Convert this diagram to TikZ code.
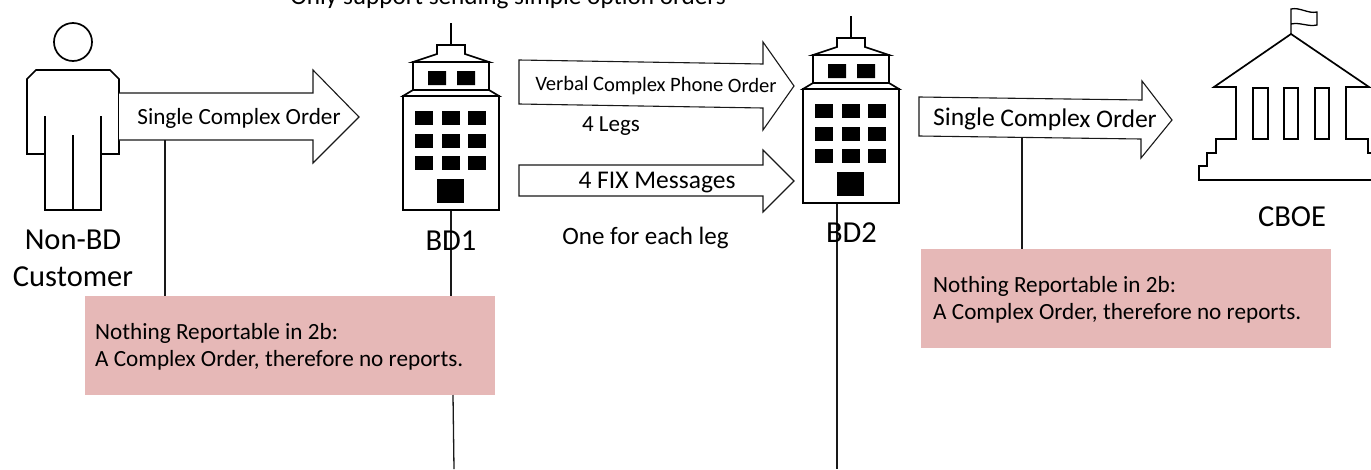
\documentclass[tikz,border=0pt]{standalone}
\usepackage{fontspec}
\setmainfont{Carlito}
\definecolor{pinkfill}{HTML}{E6B8B7}
\tikzset{
  x=1pt,y=-1pt,
  icon/.style={draw=black,line width=1.7pt,line join=miter},
  blockarrow/.style={draw=black!90,line width=1.1pt,fill=white,line join=miter},
  conn/.style={draw=black!90,line width=1.3pt},
  pinkbox/.style={fill=pinkfill,draw=none,inner sep=0pt,minimum width=410pt,minimum height=99pt},
  lbl/.style={inner sep=0pt,align=center,text=black},
  big/.style={lbl,font=\fontsize{30.5}{38}\selectfont},
  mid/.style={lbl,font=\fontsize{25.5}{30}\selectfont},
  boxtext/.style={inner sep=0pt,align=left,anchor=west,font=\fontsize{23.2}{27}\selectfont},
  pics/bdicon/.style={code={
    \draw[icon] (451,23) -- (451,45);
    \draw[icon] (413,62) -- (437,54) -- (437,45) -- (465,45) -- (465,54) -- (489,62) -- cycle;
    \draw[icon] (413,62) rectangle (489,90);
    \draw[icon] (413,90) -- (403,96) -- (499,96) -- (489,90);
    \draw[icon] (403,96) rectangle (499,210);
    \fill[black] (428,71) rectangle (446,85) (457,71) rectangle (475,85);
    \foreach \wy in {111,134,156} \foreach \wx in {415,442,468}
      \fill[black] (\wx,\wy) rectangle ++(18,14);
    \fill[black] (437,179) rectangle (464,203);
  }}
}
\begin{document}
\begin{tikzpicture}
\useasboundingbox (0,0) rectangle (1371,469);
\clip (0,0) rectangle (1371,469);
\fill[white] (0,0) rectangle (1371,469);

% free line ends
\coordinate (bdOneTop) at (451,210);
\coordinate (bdOneLow) at (453,395);
\coordinate (bdOneEnd) at (454,469);
\coordinate (bdTwoTop) at (837,203);
\coordinate (bdTwoEnd) at (837,469);
\coordinate (arrowOneFoot) at (165,140);
\coordinate (arrowFourFoot) at (1022,138);

% pink boxes
\node[pinkbox,anchor=north west] (boxOne) at (85,296) {};
\node[pinkbox,anchor=north west] (boxTwo) at (921,249) {};

% lifelines
\draw[conn] (bdOneTop) -- (bdOneTop |- boxOne.north);
\draw[conn] (bdOneLow) -- (bdOneEnd);
\draw[conn] (bdTwoTop) -- (bdTwoEnd);

% customer
\draw[icon] (73,42) circle (19);
\draw[icon] (36,70) -- (110,70) -- (119,79) -- (119,154) -- (101,154) -- (101,210) -- (45,210) -- (45,154) -- (27,154) -- (27,79) -- cycle;
\draw[icon] (45,116) -- (45,154) (101,116) -- (101,154) (73,135) -- (73,210);

% block arrows
\draw[blockarrow] (119,93) -- (313,93) -- (313,70) -- (359,117) -- (313,163) -- (313,140) -- (119,140);
\draw[blockarrow] (519,60) -- (763,64) -- (763,42) -- (794,86) -- (763,130) -- (763,108) -- (519,104) -- cycle;
\draw[blockarrow] (519,165) -- (763,165) -- (763,150) -- (794,181) -- (763,212) -- (763,196) -- (519,196) -- cycle;
\draw[blockarrow] (919,97) -- (1142,100) -- (1142,81) -- (1172,120) -- (1141,158) -- (1141,139) -- (919,136) -- cycle;

% connectors to the boxes
\draw[conn] (arrowOneFoot) -- (arrowOneFoot |- boxOne.north);
\draw[conn] (arrowFourFoot) -- (arrowFourFoot |- boxTwo.north);

% buildings
\pic at (0,0) {bdicon};
\pic at (400,-7) {bdicon};

% exchange
\draw[icon] (1199,180) -- (1199,166) -- (1207,166) -- (1207,153) -- (1216,153) -- (1216,139) -- (1236,139) -- (1236,87) -- (1214,87) -- (1291,34) -- (1369,87) -- (1346,87) -- (1346,139) -- (1368,139) -- (1368,153) -- (1376,153) -- (1376,166) -- (1383,166) -- (1383,180) -- cycle;
\draw[icon] (1253,88) rectangle (1268,139) (1284,88) rectangle (1298,139) (1315,88) rectangle (1329,139);
\draw[icon,line width=1.3pt] (1291,34) -- (1291,9) .. controls (1300,7) and (1308,14) .. (1317,12) -- (1317,25) .. controls (1308,27) and (1300,22) .. (1291,24);

% labels
\node[lbl,font=\fontsize{25.2}{30}\selectfont,anchor=base] (topNote) at (508,4.5) {Only support sending simple option orders};
\node[big] (custLabel) at (73,258.5) {Non-BD\\[-0.5pt]Customer};
\node[big] (bdOneLabel) at (451,241) {BD1};
\node[big] (bdTwoLabel) at (851.5,233) {BD2};
\node[big] (cboeLabel) at (1292,217) {CBOE};
\node[lbl,font=\fontsize{23.2}{28}\selectfont] (singleOne) at (239,118) {Single Complex Order};
\node[lbl,font=\fontsize{20.5}{24}\selectfont,rotate=-0.5] (verbal) at (656,86) {Verbal Complex Phone Order};
\node[lbl,font=\fontsize{23}{26}\selectfont] (legs) at (611,126) {4 Legs};
\node[mid] (fixMsg) at (657,183) {4 FIX Messages};
\node[mid,font=\fontsize{25}{30}\selectfont] (oneEach) at (645.5,238) {One for each leg};
\node[lbl,font=\fontsize{25.5}{30}\selectfont,rotate=-0.6] (singleTwo) at (1045,120) {Single Complex Order};

% box texts
\node[boxtext] (boxOneText) at (95,347) {Nothing Reportable in 2b:\\A Complex Order, therefore no reports.};
\node[boxtext] (boxTwoText) at (933,300) {Nothing Reportable in 2b:\\A Complex Order, therefore no reports.};
\end{tikzpicture}
\end{document}
